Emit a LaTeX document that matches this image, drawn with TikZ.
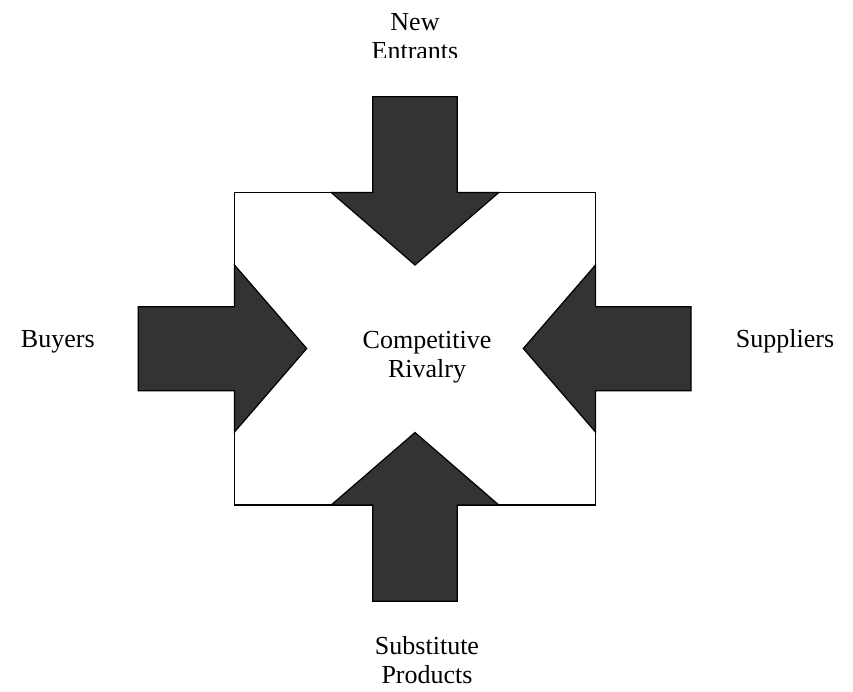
\documentclass[tikz,border=0pt]{standalone}
\usepackage{fontspec}
\setmainfont{Liberation Serif}
\definecolor{arrowgray}{RGB}{51,51,51}
\begin{document}
\begin{tikzpicture}[x=0.75pt,y=-0.75pt,
  bigarrow/.style={fill=arrowgray,draw=black,line width=0.9pt,line join=miter},
  boxline/.style={draw=black,line width=0.9pt},
  lbl/.style={font=\fontsize{19.5}{21.75}\selectfont,align=center,anchor=base,inner sep=0pt}]
\useasboundingbox (0,0) rectangle (853,692);
% central box
\draw[boxline] (234.5,192.5) rectangle (595.5,505);
% arrows
\draw[bigarrow] (372.7,96.7) -- (457.3,96.7) -- (457.3,192.5) -- (498.8,192.5) -- (415,265) -- (331.2,192.5) -- (372.7,192.5) -- cycle;
\draw[bigarrow] (138.3,306.7) -- (234.5,306.7) -- (234.5,265) -- (306.7,348.5) -- (234.5,432) -- (234.5,390.7) -- (138.3,390.7) -- cycle;
\draw[bigarrow] (691,306.7) -- (595.5,306.7) -- (595.5,265) -- (523.3,348.5) -- (595.5,432) -- (595.5,390.7) -- (691,390.7) -- cycle;
\draw[bigarrow] (372.7,601.3) -- (457.3,601.3) -- (457.3,505) -- (498.8,505) -- (415,432.5) -- (331.2,505) -- (372.7,505) -- cycle;
% labels
\node[lbl] (buyers) at (57.8,347.3) {Buyers};
\node[lbl] (suppliers) at (785,347.3) {Suppliers};
\node[lbl] (rivalry) at (427,377) {Competitive\\Rivalry};
\node[lbl] (subst) at (427,683.5) {Substitute\\Products};
\begin{scope}
  \clip (0,0) rectangle (853,57.3);
  \node[lbl] (entrants) at (415,59.6) {New\\Entrants};
\end{scope}
\end{tikzpicture}
\end{document}
